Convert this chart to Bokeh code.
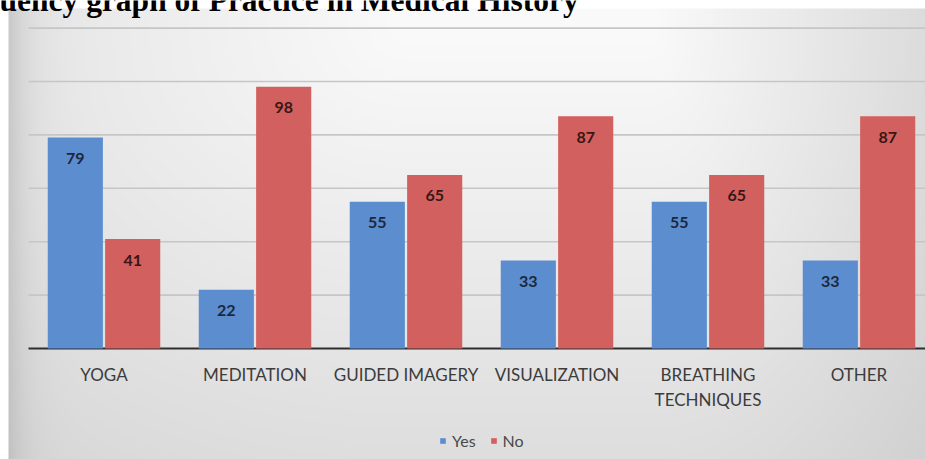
import numpy as np
from bokeh.plotting import figure
from bokeh.models import ColumnDataSource, Range1d, Label, Legend, LegendItem
from bokeh.core.properties import value
from bokeh.embed import file_html
from bokeh.resources import INLINE

# ---------------- data ----------------
categories = ["YOGA", "MEDITATION", "GUIDED IMAGERY", "VISUALIZATION",
              "BREATHING\nTECHNIQUES", "OTHER"]
yes_values = [79, 22, 55, 33, 55, 33]
no_values = [41, 98, 65, 87, 65, 87]
grid_values = [20, 40, 60, 80, 100, 120]
series_names = ["Yes", "No"]
title_text = "uency graph of Practice in Medical History"

# ---------------- layout constants (pixels) ----------------
W, H = 925, 459
LEFT_PX = 28        # left end of category axis
CAT_PX = 151        # width of one category
BASE_PX = 348       # screen y of the value 0 baseline
UNIT_PX = 2.67      # pixels per value unit

x_start = -LEFT_PX / CAT_PX
x_end = (W - LEFT_PX) / CAT_PX
y_end = BASE_PX / UNIT_PX
y_start = -(H - BASE_PX) / UNIT_PX

FONT = value("Lato")

p = figure(width=W, height=H, title=None,
           x_range=Range1d(x_start, x_end), y_range=Range1d(y_start, y_end),
           output_backend="svg", toolbar_location=None, min_border=0,
           x_axis_type=None, y_axis_type=None)
p.outline_line_color = None
p.background_fill_color = "white"
p.border_fill_color = "white"

# ---------------- gradient background (decoration) ----------------
xs = np.arange(W) + 0.5
ys = np.arange(H) + 0.5
X, Y = np.meshgrid(xs, ys)
h = (30 * np.exp(-(X - 8) / 20.0)
     + 20 * np.clip(1 - (X - 8) / 400.0, 0, 1)
     + 30 * np.clip((X - 650) / 275.0, 0, 1))
v = 28 * np.clip((Y - 30) / 429.0, 0, 1)
L = 250 - np.sqrt(h ** 2 + v ** 2)
L[(X < 8) | (Y < 8)] = 255
L = np.clip(L, 0, 255).astype(np.uint8)
img = np.empty((H, W), dtype=np.uint32)
view = img.view(dtype=np.uint8).reshape((H, W, 4))
view[..., 0] = L
view[..., 1] = L
view[..., 2] = L
view[..., 3] = 255
img = np.flipud(img)
p.image_rgba(image=[img], x=x_start, y=y_start, dw=x_end - x_start, dh=y_end - y_start)

# ---------------- gridlines & axis line ----------------
p.segment(x0=[0] * len(grid_values), y0=grid_values,
          x1=[x_end] * len(grid_values), y1=grid_values,
          line_color="#c6c6c6", line_width=1.6)
p.segment(x0=[0], y0=[0], x1=[x_end], y1=[0], line_color="#2e2e2e", line_width=2)

# ---------------- bars ----------------
centers = np.arange(len(categories)) + 0.5
DODGE = 0.19
BAR_W = 0.365
src = ColumnDataSource(dict(
    xc=centers,
    x_yes=centers - DODGE,
    x_no=centers + DODGE,
    yes=yes_values,
    no=no_values,
    yes_lbl=[str(v_) for v_ in yes_values],
    no_lbl=[str(v_) for v_ in no_values],
    cat=categories,
    zero=[0] * len(categories),
))

r_yes = p.vbar(x="x_yes", top="yes", width=BAR_W, source=src,
               fill_color="#5b8dcf", line_color=None)
r_no = p.vbar(x="x_no", top="no", width=BAR_W, source=src,
              fill_color="#d1605e", line_color=None)

p.text(x="x_yes", y="yes", text="yes_lbl", source=src, text_align="center",
       text_baseline="middle", y_offset=21, text_font=FONT,
       text_font_style="bold", text_font_size="16px", text_color="#1c2740")
p.text(x="x_no", y="no", text="no_lbl", source=src, text_align="center",
       text_baseline="middle", y_offset=21, text_font=FONT,
       text_font_style="bold", text_font_size="16px", text_color="#3a1616")

# ---------------- category labels ----------------
p.text(x="xc", y="zero", text="cat", source=src, text_align="center",
       text_baseline="top", y_offset=15, text_font=FONT,
       text_font_size="17px", text_color="#3c3c3c", text_line_height=1.2)

# ---------------- legend ----------------
legend = Legend(items=[LegendItem(label=series_names[0], renderers=[r_yes]),
                       LegendItem(label=series_names[1], renderers=[r_no])],
                orientation="horizontal", location=(439, 9),
                glyph_width=7, glyph_height=7, label_text_font="Lato",
                label_text_font_size="16px", label_text_color="#4a4a4a",
                background_fill_alpha=0, border_line_color=None,
                padding=0, margin=0, spacing=14, label_standoff=6)
p.add_layout(legend)

# ---------------- title (cropped at top like reference) ----------------
p.add_layout(Label(x=-1, y=H, x_units="screen", y_units="screen",
                   text=title_text, text_font="Liberation Serif",
                   text_font_style="bold", text_font_size="31.5px",
                   text_baseline="alphabetic", text_color="black"))

open("out.html", "w").write(file_html(p, INLINE))
